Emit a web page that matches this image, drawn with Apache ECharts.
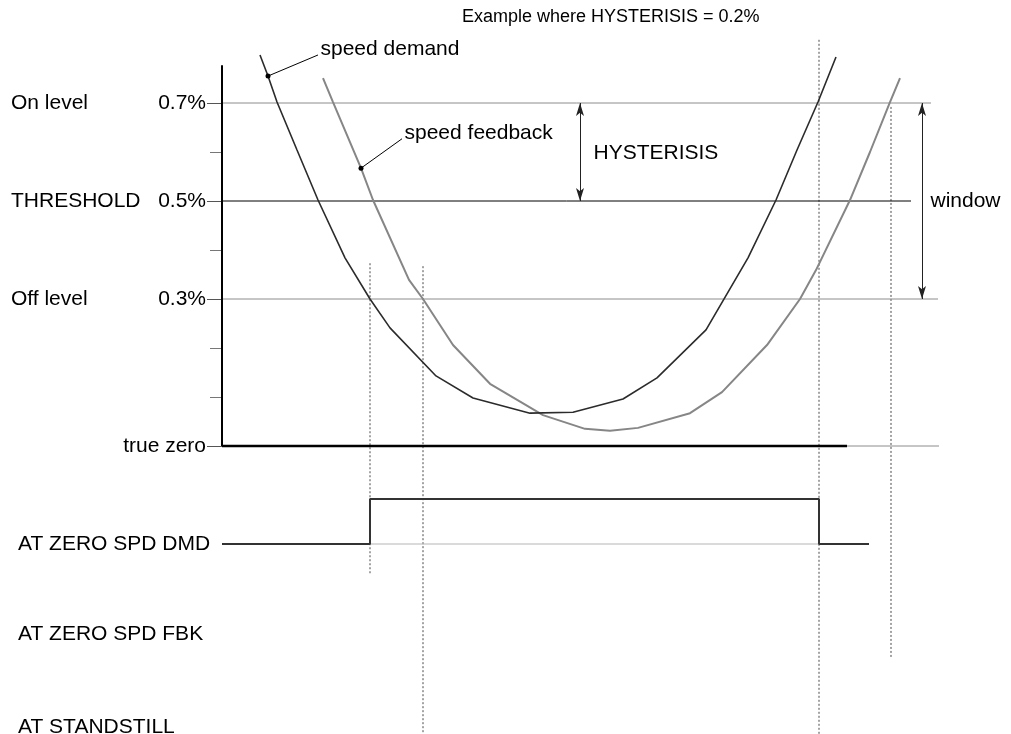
<!DOCTYPE html>
<html>
<head>
<meta charset="utf-8">
<script src="https://cdn.jsdelivr.net/npm/echarts@6/dist/echarts.min.js"></script>
<style>
  html, body { margin: 0; padding: 0; background: #fff; }
  #chart { width: 1011px; height: 734px; }
</style>
</head>
<body>
<div id="chart"></div>
<script>
// Zero-speed detection: speed demand / feedback against the threshold window
const FONT = 'Liberation Sans, Arial, sans-serif';
const FS = 21;

// Level axis (speed in % of full scale)
const levelValues = [0.3, 0.5, 0.7];
const levelLabels = ['0.3%', '0.5%', '0.7%'];
const levelNames = ['Off level', 'THRESHOLD', 'On level'];
const minorTicks = [0.1, 0.2, 0.4, 0.6];
const zeroLabel = 'true zero';
const axisTop = 0.777;
const yMin = -0.6;
const yMax = 0.9;

// Digital traces, stacked below the analog plot
const traceNames = ['AT ZERO SPD DMD', 'AT ZERO SPD FBK', 'AT STANDSTILL'];
const traceRows = [-0.2, -0.384, -0.573];
const traceHigh = -0.108;

// Time base (ms)
const timeMax = 720;

// Speed demand
const demandT = [38, 46, 55, 75, 96, 123, 148, 168, 214, 251, 308, 351, 401, 435, 484, 526, 554, 575, 596, 614];
const demandV = [0.798, 0.755, 0.702, 0.604, 0.502, 0.384, 0.300, 0.241, 0.143, 0.098, 0.067, 0.069, 0.096, 0.139, 0.237, 0.384, 0.502, 0.604, 0.702, 0.794];

// Speed feedback
const feedbackT = [101, 111, 139, 151, 187, 201, 231, 268, 321, 363, 388, 416, 468, 500, 545, 578, 594, 628, 648, 668, 678];
const feedbackV = [0.751, 0.702, 0.567, 0.502, 0.339, 0.300, 0.206, 0.127, 0.063, 0.035, 0.031, 0.037, 0.067, 0.110, 0.206, 0.300, 0.359, 0.502, 0.600, 0.702, 0.751];

// Switching instants (vertical markers): [time, top, bottom]
const markerT = [148, 201, 597, 669];
const markerTop = [0.373, 0.367, 0.829, 0.692];
const markerBottom = [-0.263, -0.6, -0.6, -0.433];

// AT ZERO SPD DMD output: low / high / low
const dmdT = [0, 148, 148, 597, 597, 647];
const dmdV = [-0.2, -0.2, traceHigh, traceHigh, -0.2, -0.2];

// Horizontal reference line extents
const levelEnd = [716, 689, 709];      // Off, THRESHOLD, On
const zeroSolidEnd = 625;
const zeroRefEnd = 717;

// Dimension arrows
const hystT = 358;
const windowT = 700;

// Annotation anchors
const demandTag = { dot: [46, 0.755], end: [96, 0.798], text: 'speed demand' };
const feedbackTag = { dot: [139, 0.567], end: [180, 0.627], text: 'speed feedback' };
const hystText = { at: [371, 0.597], text: 'HYSTERISIS' };
const windowText = { at: [708, 0.5], text: 'window' };
const titleText = 'Example where HYSTERISIS = 0.2%';

const zip = (xs, ys) => xs.map((x, i) => [x, ys[i]]);

function seg(name, pts, color, width, type, z) {
  return {
    name, type: 'line', data: pts, symbol: 'none', silent: true,
    lineStyle: { color, width, type: type || 'solid' }, z: z || 2,
    xAxisIndex: 0, yAxisIndex: 0, clip: false
  };
}

const series = [];

// analog axis line
series.push(seg('axis', [[0, 0], [0, axisTop]], '#000', 2, 'solid', 5));

// reference levels
series.push(seg('off level', [[0, 0.3], [levelEnd[0], 0.3]], '#8c8c8c', 1));
series.push(seg('threshold', [[0, 0.5], [levelEnd[1], 0.5]], '#000', 1));
series.push(seg('on level', [[0, 0.7], [levelEnd[2], 0.7]], '#8c8c8c', 1));
series.push(seg('zero ref', [[zeroSolidEnd, 0], [zeroRefEnd, 0]], '#8c8c8c', 1));
series.push(seg('true zero', [[0, 0], [zeroSolidEnd, 0]], '#000', 2.5, 'solid', 4));

// switching markers
markerT.forEach((t, i) => {
  series.push(seg('marker' + i, [[t, markerTop[i]], [t, markerBottom[i]]], '#4a4a4a', 1, [2, 2], 1));
});

// curves
series.push(seg('speed demand', zip(demandT, demandV), '#2b2b2b', 1.6, 'solid', 6));
series.push(seg('speed feedback', zip(feedbackT, feedbackV), '#868686', 2, 'solid', 5));

// DMD output trace
series.push(seg('dmd low ref', [[dmdT[1], traceRows[0]], [dmdT[3], traceRows[0]]], '#b5b5b5', 1, 'solid', 1));
series.push(seg('AT ZERO SPD DMD', zip(dmdT, dmdV), '#333', 2, 'solid', 6));

// leader lines with dot and text
function tag(name, tg) {
  return {
    name, type: 'line', silent: true, clip: false, z: 7,
    showSymbol: true, showAllSymbol: true,
    lineStyle: { color: '#000', width: 1 },
    data: [
      { value: tg.dot, symbol: 'circle', symbolSize: 5, itemStyle: { color: '#000' } },
      { value: tg.end, symbol: 'circle', symbolSize: 1, itemStyle: { color: 'rgba(0,0,0,0)' },
        label: { show: true, position: 'right', distance: 2, offset: [0, -6], formatter: tg.text,
                 color: '#000', fontSize: FS, fontFamily: FONT } }
    ]
  };
}
series.push(tag('demand tag', demandTag));
series.push(tag('feedback tag', feedbackTag));

// dimension arrows + free labels
series.push({
  name: 'dimensions', type: 'line', data: [], silent: true,
  markLine: {
    silent: true, symbol: ['arrow', 'arrow'], symbolSize: [6, 13],
    label: { show: false },
    lineStyle: { color: '#222', width: 1, type: 'solid' },
    data: [
      [{ coord: [hystT, 0.7] }, { coord: [hystT, 0.5] }],
      [{ coord: [windowT, 0.7] }, { coord: [windowT, 0.3] }]
    ]
  }
});
series.push({
  name: 'notes', type: 'scatter', silent: true, symbolSize: 1,
  itemStyle: { color: 'rgba(0,0,0,0)', opacity: 1 },
  data: [
    { value: hystText.at, label: { formatter: hystText.text } },
    { value: windowText.at, label: { formatter: windowText.text } }
  ],
  label: { show: true, position: 'right', distance: 0, color: '#000', fontSize: FS, fontFamily: FONT }
});

function levelAxis(extra) {
  return Object.assign({
    type: 'value', min: yMin, max: yMax, position: 'left',
    axisLine: { show: false }, splitLine: { show: false }, axisTick: { show: false }
  }, extra);
}

const chart = echarts.init(document.getElementById('chart'), null, { renderer: 'canvas' });
chart.setOption({
  animation: false,
  backgroundColor: '#fff',
  title: {
    text: titleText, left: 457, top: 3,
    textStyle: { fontSize: 18, fontWeight: 'normal', color: '#000', fontFamily: FONT }
  },
  grid: { left: 222, top: 5, width: timeMax, height: (yMax - yMin) * 490,
          containLabel: false, outerBoundsMode: 'none' },
  xAxis: { type: 'value', min: 0, max: timeMax, show: false },
  yAxis: [
    levelAxis({
      axisTick: { show: true, customValues: [0].concat(levelValues), length: 15,
                  lineStyle: { color: '#555', width: 1 } },
      axisLabel: {
        show: true, customValues: [0].concat(levelValues), margin: 16,
        color: '#000', fontSize: FS, fontFamily: FONT,
        formatter: v => v === 0 ? zeroLabel : levelLabels[levelValues.findIndex(x => Math.abs(x - v) < 1e-6)]
      }
    }),
    levelAxis({
      axisTick: { show: true, customValues: minorTicks, length: 12,
                  lineStyle: { color: '#777', width: 1 } },
      axisLabel: { show: false }
    }),
    levelAxis({
      axisLabel: {
        show: true, customValues: levelValues, margin: 211, align: 'left',
        color: '#000', fontSize: FS, fontFamily: FONT,
        formatter: v => levelNames[levelValues.findIndex(x => Math.abs(x - v) < 1e-6)]
      }
    }),
    levelAxis({
      axisLabel: {
        show: true, customValues: traceRows, margin: 204, align: 'left',
        color: '#000', fontSize: FS, fontFamily: FONT,
        formatter: v => traceNames[traceRows.findIndex(x => Math.abs(x - v) < 1e-6)]
      }
    })
  ],
  series
});
</script>
</body>
</html>
